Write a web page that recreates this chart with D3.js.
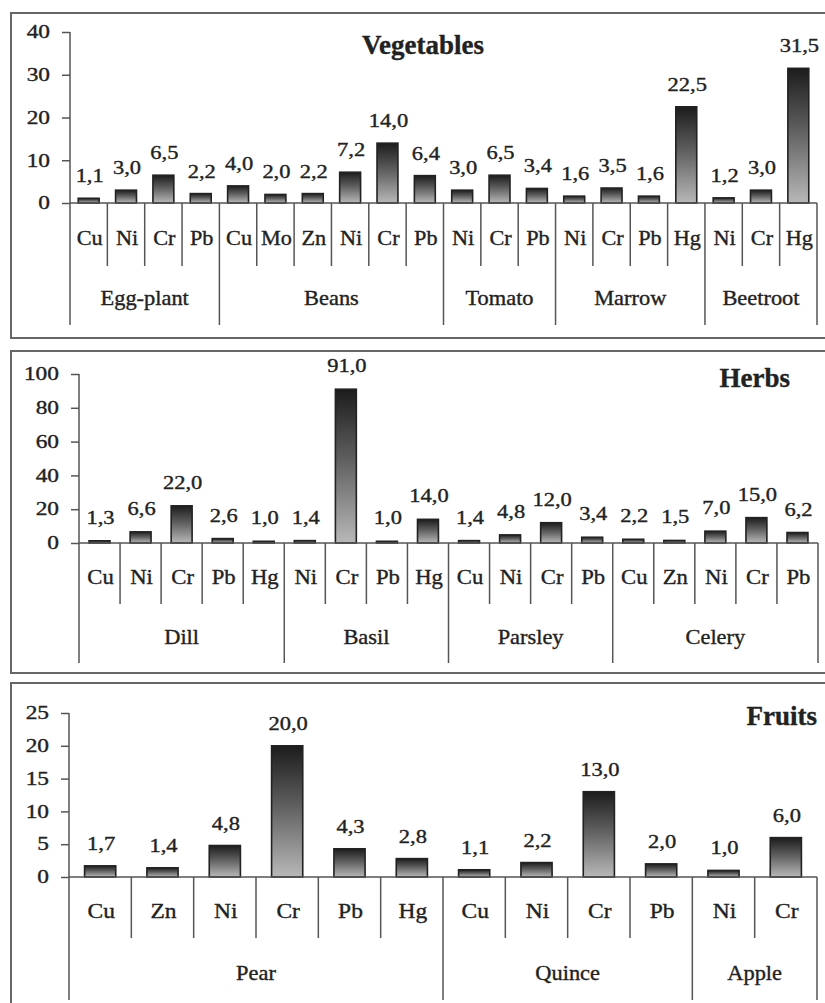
<!DOCTYPE html>
<html>
<head>
<meta charset="utf-8">
<script src="https://cdn.jsdelivr.net/npm/d3@7"></script>
<style>
  html, body { margin: 0; padding: 0; background: #fff; }
  svg { display: block; }
  text { font-family: "Liberation Serif", "Times New Roman", serif; fill: #222; stroke: #222; stroke-width: 0.35px; }
</style>
</head>
<body>
<svg id="chart" width="825" height="1003"></svg>
<script>
// ---------------- DATA ----------------
const vegTitle = "Vegetables";
const vegGroups = ["Egg-plant", "Beans", "Tomato", "Marrow", "Beetroot"];
const vegElements = [["Cu","Ni","Cr","Pb"], ["Cu","Mo","Zn","Ni","Cr","Pb"], ["Ni","Cr","Pb"], ["Ni","Cr","Pb","Hg"], ["Ni","Cr","Hg"]];
const vegValues = [[1.1,3.0,6.5,2.2], [4.0,2.0,2.2,7.2,14.0,6.4], [3.0,6.5,3.4], [1.6,3.5,1.6,22.5], [1.2,3.0,31.5]];
const vegTicks = [0, 10, 20, 30, 40];

const herbTitle = "Herbs";
const herbGroups = ["Dill", "Basil", "Parsley", "Celery"];
const herbElements = [["Cu","Ni","Cr","Pb","Hg"], ["Ni","Cr","Pb","Hg"], ["Cu","Ni","Cr","Pb"], ["Cu","Zn","Ni","Cr","Pb"]];
const herbValues = [[1.3,6.6,22.0,2.6,1.0], [1.4,91.0,1.0,14.0], [1.4,4.8,12.0,3.4], [2.2,1.5,7.0,15.0,6.2]];
const herbTicks = [0, 20, 40, 60, 80, 100];

const fruitTitle = "Fruits";
const fruitGroups = ["Pear", "Quince", "Apple"];
const fruitElements = [["Cu","Zn","Ni","Cr","Pb","Hg"], ["Cu","Ni","Cr","Pb"], ["Ni","Cr"]];
const fruitValues = [[1.7,1.4,4.8,20.0,4.3,2.8], [1.1,2.2,13.0,2.0], [1.0,6.0]];
const fruitTicks = [0, 5, 10, 15, 20, 25];

// ---------------- DRAWING ----------------
const svg = d3.select("#chart");
const defs = svg.append("defs");
const grad = defs.append("linearGradient").attr("id", "barGrad")
  .attr("x1", 0).attr("y1", 0).attr("x2", 0).attr("y2", 1);
grad.append("stop").attr("offset", "0%").attr("stop-color", "#1c1c1c");
grad.append("stop").attr("offset", "45%").attr("stop-color", "#5e5e5e");
grad.append("stop").attr("offset", "100%").attr("stop-color", "#b8b8b8");

const fmt = v => d3.format(".1f")(v).replace(".", ",");
const lineColor = "#555";

function stext(g, x, y, str, size, sx, anchor, weight, baseline) {
  return g.append("text")
    .attr("transform", `translate(${x},${y}) scale(${sx},1)`)
    .attr("text-anchor", anchor)
    .attr("dominant-baseline", baseline || "alphabetic")
    .attr("font-size", size)
    .attr("font-weight", weight || "normal")
    .text(str);
}

function panel(L, title, groups, elements, values, ticks) {
  const g = svg.append("g");
  g.append("rect").attr("x", 11).attr("y", L.top).attr("width", 830).attr("height", L.bottom - L.top)
    .attr("fill", "none").attr("stroke", "#666").attr("stroke-width", 2);

  const items = [];
  groups.forEach((gr, gi) => elements[gi].forEach((el, ei) =>
    items.push({ key: gi + "-" + ei, group: gr, gi, el, v: values[gi][ei], first: ei === 0 })));

  const x = d3.scaleBand().domain(items.map(d => d.key)).range([L.axisX, L.right]).padding(0);
  const y = d3.scaleLinear().domain([0, d3.max(ticks)]).range([L.y0, L.yTop]);
  const bw = x.bandwidth() * L.barRatio;

  const ax = g.append("g").attr("transform", `translate(${L.axisX},0)`)
    .call(d3.axisLeft(y).tickValues(ticks).tickSize(8).tickFormat(d3.format("d")));
  ax.select(".domain").remove();
  ax.selectAll(".tick line").attr("stroke", lineColor).attr("stroke-width", 1.5);
  ax.selectAll(".tick text")
    .attr("x", -20 / 1.3).attr("transform", "scale(1.3,1)")
    .attr("font-size", 18).attr("font-family", null).attr("fill", "#222");
  g.append("line").attr("x1", L.axisX).attr("x2", L.axisX).attr("y1", L.yTop).attr("y2", L.groupBottom)
    .attr("stroke", lineColor).attr("stroke-width", 1.5);

  g.selectAll("rect.bar").data(items).enter().append("rect").attr("class", "bar")
    .attr("x", d => x(d.key) + (x.bandwidth() - bw) / 2)
    .attr("y", d => y(d.v))
    .attr("width", bw)
    .attr("height", d => y(0) - y(d.v))
    .attr("fill", "url(#barGrad)")
    .attr("stroke", "#222").attr("stroke-width", 1.6);

  items.forEach(d => {
    stext(g, x(d.key) + x.bandwidth() / 2 + 1, y(d.v) - L.labelGap, fmt(d.v), 18, 1.25, "middle");
  });

  g.append("line").attr("x1", L.axisX).attr("x2", L.right).attr("y1", y(0)).attr("y2", y(0))
    .attr("stroke", lineColor).attr("stroke-width", 1.5);

  items.forEach((d, i) => {
    if (i === 0) return;
    const xx = x(d.key);
    g.append("line").attr("x1", xx).attr("x2", xx).attr("y1", y(0))
      .attr("y2", d.first ? L.groupBottom : L.innerBottom)
      .attr("stroke", lineColor).attr("stroke-width", 1.5);
  });
  g.append("line").attr("x1", L.right).attr("x2", L.right).attr("y1", y(0)).attr("y2", L.groupBottom)
    .attr("stroke", lineColor).attr("stroke-width", 1.5);

  items.forEach(d => {
    stext(g, x(d.key) + x.bandwidth() / 2 + 1, L.elemY, d.el, 21, L.elemSx, "middle", "normal", "central");
  });

  groups.forEach((gr, gi) => {
    const keys = items.filter(d => d.gi === gi).map(d => d.key);
    const x0 = x(keys[0]), x1 = x(keys[keys.length - 1]) + x.bandwidth();
    stext(g, (x0 + x1) / 2, L.groupY, gr, 20, 1.12, "middle", "normal", "central");
  });

  stext(g, L.titleX, L.titleY, title, 27, 1, L.titleAnchor, "bold");
}

panel({ top: 13, bottom: 338, axisX: 70, right: 817, y0: 203, yTop: 32, innerBottom: 266, groupBottom: 325,
        elemY: 238, groupY: 298, barRatio: 0.56, labelGap: 16, elemSx: 1.06,
        titleX: 423, titleY: 54, titleAnchor: "middle" },
      vegTitle, vegGroups, vegElements, vegValues, vegTicks);

panel({ top: 351, bottom: 673, axisX: 79, right: 818, y0: 543, yTop: 374, innerBottom: 604, groupBottom: 663,
        elemY: 577, groupY: 637, barRatio: 0.51, labelGap: 17, elemSx: 1.08,
        titleX: 790, titleY: 387, titleAnchor: "end" },
      herbTitle, herbGroups, herbElements, herbValues, herbTicks);

panel({ top: 683, bottom: 1012, axisX: 69, right: 817, y0: 877, yTop: 713, innerBottom: 938, groupBottom: 1000,
        elemY: 911, groupY: 973, barRatio: 0.5, labelGap: 16, elemSx: 1.12,
        titleX: 817, titleY: 725, titleAnchor: "end" },
      fruitTitle, fruitGroups, fruitElements, fruitValues, fruitTicks);
</script>
</body>
</html>
